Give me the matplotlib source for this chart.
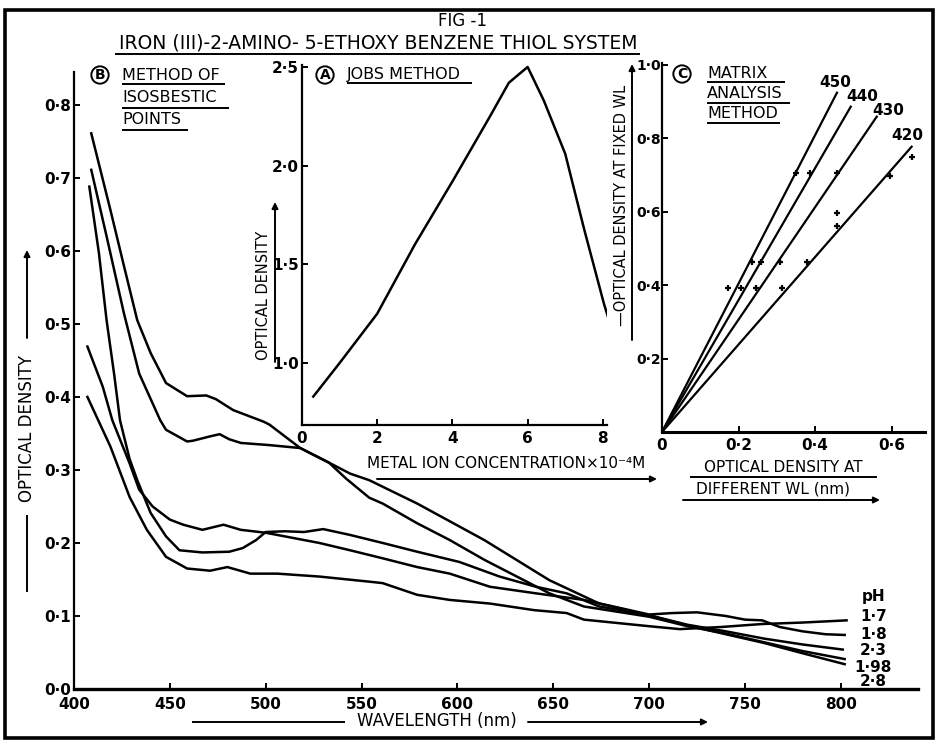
import matplotlib
matplotlib.use('Agg')
import matplotlib.pyplot as plt
from matplotlib.lines import Line2D
from matplotlib.patches import FancyArrowPatch, Rectangle

plt.rcParams['font.family'] = ['DejaVu Sans']

# ---------------- data: (B) method of isosbestic points ----------------
wl_198 = [409, 419, 426, 433, 440, 448, 459, 469, 474, 483, 499, 502, 518, 533, 542, 554, 561, 579, 596, 614,
          631, 648, 666, 700, 720, 740, 760, 780, 802]
od_198 = [0.761, 0.656, 0.580, 0.505, 0.460, 0.419, 0.401, 0.402, 0.397, 0.382, 0.366, 0.362, 0.330, 0.310,
          0.288, 0.262, 0.254, 0.227, 0.204, 0.177, 0.154, 0.131, 0.113, 0.099, 0.086, 0.076, 0.064, 0.052,
          0.041]

wl_23 = [409, 417, 426, 434, 445, 448, 459, 462, 471, 476, 481, 487, 502, 518, 533, 544, 554, 579,
         614, 648, 674, 700, 720, 740, 760, 780, 801]
od_23 = [0.711, 0.620, 0.515, 0.432, 0.368, 0.355, 0.339, 0.340, 0.346, 0.349, 0.342, 0.337, 0.334,
         0.330, 0.310, 0.295, 0.286, 0.254, 0.204, 0.149, 0.117, 0.101, 0.088, 0.079, 0.069, 0.061, 0.054]

wl_28 = [408, 413, 417, 421, 424, 429, 433, 440, 448, 455, 467, 481, 488, 495, 500, 510, 520, 530, 544, 561,
         579, 601, 622, 641, 657, 674, 700, 720, 740, 760, 780, 802]
od_28 = [0.688, 0.597, 0.505, 0.430, 0.368, 0.315, 0.286, 0.241, 0.209, 0.190, 0.187, 0.188, 0.193, 0.204,
         0.215, 0.216, 0.215, 0.219, 0.211, 0.200, 0.188, 0.174, 0.154, 0.140, 0.131, 0.113, 0.101, 0.087,
         0.075, 0.063, 0.049, 0.034]

wl_18 = [407, 415, 420, 429, 434, 441, 450, 457, 467, 478, 487, 500, 506, 528, 544, 561, 579, 596, 617,
         641, 666, 700, 712, 725, 740, 750, 759, 768, 780, 792, 802]
od_18 = [0.469, 0.414, 0.368, 0.309, 0.273, 0.250, 0.232, 0.225, 0.218, 0.225, 0.218, 0.214, 0.211, 0.200,
         0.190, 0.179, 0.167, 0.158, 0.140, 0.131, 0.122, 0.102, 0.104, 0.105, 0.100, 0.095, 0.094, 0.085,
         0.079, 0.075, 0.074]

wl_17 = [407, 419, 429, 438, 448, 459, 471, 480, 492, 506, 528, 554, 561, 579, 596, 617, 640, 657, 666,
         700, 716, 738, 759, 780, 803]
od_17 = [0.400, 0.332, 0.263, 0.218, 0.181, 0.165, 0.162, 0.167, 0.158, 0.158, 0.154, 0.147, 0.145, 0.129,
         0.122, 0.117, 0.108, 0.104, 0.095, 0.086, 0.082, 0.085, 0.089, 0.091, 0.094]

ph_labels = ['1·7', '1·8', '2·3', '1·98', '2·8']
ph_label_od = [0.099, 0.075, 0.053, 0.030, 0.010]
wl_ticks = [400, 450, 500, 550, 600, 650, 700, 750, 800]
od_ticks = [0.0, 0.1, 0.2, 0.3, 0.4, 0.5, 0.6, 0.7, 0.8]
od_tick_labels = ['0·0', '0·1', '0·2', '0·3', '0·4', '0·5', '0·6', '0·7', '0·8']

# ---------------- data: (A) Job's method ----------------
jobs_conc = [0.3, 1.0, 2.0, 3.0, 4.0, 5.0, 5.5, 6.0, 6.43, 7.0, 7.5, 8.03, 8.45]
jobs_od = [0.83, 1.00, 1.25, 1.60, 1.92, 2.25, 2.42, 2.50, 2.33, 2.06, 1.68, 1.30, 1.04]
jobs_xticks = [0, 2, 4, 6, 8]
jobs_yticks = [1.0, 1.5, 2.0, 2.5]
jobs_ytick_labels = ['1·0', '1·5', '2·0', '2·5']

# ---------------- data: (C) matrix analysis ----------------
matrix_wl = ['450', '440', '430', '420']
matrix_end_x = [0.457, 0.493, 0.561, 0.652]
matrix_end_y = [0.924, 0.886, 0.859, 0.777]
matrix_lab_x = [0.452, 0.522, 0.590, 0.640]
matrix_lab_y = [0.951, 0.913, 0.875, 0.808]
matrix_pts_x = [0.172, 0.207, 0.245, 0.313, 0.234, 0.258, 0.308, 0.378, 0.350, 0.386, 0.456, 0.595,
                0.456, 0.456, 0.654]
matrix_pts_y = [0.392, 0.392, 0.392, 0.392, 0.464, 0.464, 0.464, 0.464, 0.706, 0.706, 0.706, 0.696,
                0.597, 0.561, 0.749]
mx_ticks = [0, 0.2, 0.4, 0.6]
mx_tick_labels = ['0', '0·2', '0·4', '0·6']
my_ticks = [0.2, 0.4, 0.6, 0.8, 1.0]
my_tick_labels = ['0·2', '0·4', '0·6', '0·8', '1·0']

# ---------------- figure ----------------
W, H = 939, 744
fig = plt.figure(figsize=(W / 100, H / 100), dpi=100)
fig.patch.set_facecolor('white')


def fx(p):
    return p / W


def fy(p):
    return 1 - p / H


def ftext(x, y, s, **kw):
    kw.setdefault('va', 'center')
    kw.setdefault('ha', 'left')
    kw.setdefault('fontsize', 11)
    return fig.text(fx(x), fy(y), s, **kw)


def fline(x0, y0, x1, y1, lw=1.4):
    fig.add_artist(Line2D([fx(x0), fx(x1)], [fy(y0), fy(y1)], transform=fig.transFigure,
                          color='k', lw=lw, solid_capstyle='butt'))


def farrow(x0, y0, x1, y1, lw=1.4):
    fig.add_artist(FancyArrowPatch((fx(x0), fy(y0)), (fx(x1), fy(y1)), transform=fig.transFigure,
                                   arrowstyle='-|>', mutation_scale=9, lw=lw, color='k',
                                   shrinkA=0, shrinkB=0))


def circ(x, y, s, size=10):
    fig.text(fx(x), fy(y), s, ha='center', va='center', fontsize=size, fontweight='bold',
             bbox=dict(boxstyle='circle,pad=0.12', fc='none', ec='k', lw=1.4))


def style_axes(ax, lw_left=1.6, lw_bottom=1.6, size=11):
    for s in ['top', 'right']:
        ax.spines[s].set_visible(False)
    ax.spines['left'].set_linewidth(lw_left)
    ax.spines['bottom'].set_linewidth(lw_bottom)
    ax.patch.set_alpha(0)
    ax.tick_params(direction='in', length=4, width=1.4, labelsize=size, pad=2)
    for lab in ax.get_xticklabels() + ax.get_yticklabels():
        lab.set_fontweight('bold')


# main axes (B)
ax = fig.add_axes([fx(74), fy(689), (917.5 - 74) / W, (689 - 72) / H])
ax.set_xlim(400, 840)
ax.set_ylim(0, 0.845)
for wl, od in [(wl_17, od_17), (wl_18, od_18), (wl_23, od_23), (wl_198, od_198), (wl_28, od_28)]:
    ax.plot(wl, od, color='k', lw=1.8, solid_joinstyle='round')
ax.set_xticks(wl_ticks)
ax.set_xticklabels([str(v) for v in wl_ticks])
ax.set_yticks(od_ticks)
ax.set_yticklabels(od_tick_labels)
style_axes(ax, 1.6, 2.4)
ax.tick_params(axis='x', pad=6)
ax.text(817, 0.127, 'pH', ha='center', va='center', fontsize=11, fontweight='bold')
for lab, yv in zip(ph_labels, ph_label_od):
    ax.text(817, yv, lab, ha='center', va='center', fontsize=11, fontweight='bold')

# inset (A) Job's method
ax2 = fig.add_axes([fx(302), fy(425), 304.6 / W, (425 - 65) / H])
ax2.set_xlim(0, 8.1)
ax2.set_ylim(0.686, 2.51)
ax2.plot(jobs_conc, jobs_od, color='k', lw=1.8)
ax2.set_xticks(jobs_xticks)
ax2.set_xticklabels([str(v) for v in jobs_xticks])
ax2.set_yticks(jobs_yticks)
ax2.set_yticklabels(jobs_ytick_labels)
style_axes(ax2)
ax2.tick_params(axis='x', pad=4)

# inset (C) matrix analysis
ax3 = fig.add_axes([fx(662), fy(432), (925 - 662) / W, (432 - 63) / H])
ax3.set_xlim(0, 0.687)
ax3.set_ylim(0, 1.005)
for ex, ey, lab, lx, ly in zip(matrix_end_x, matrix_end_y, matrix_wl, matrix_lab_x, matrix_lab_y):
    ax3.plot([0, ex], [0, ey], color='k', lw=1.6)
    ax3.text(lx, ly, lab, ha='center', va='center', fontsize=11, fontweight='bold')
ax3.plot(matrix_pts_x, matrix_pts_y, linestyle='none', marker='+', markersize=5,
         markeredgewidth=1.6, color='k')
ax3.set_xticks(mx_ticks)
ax3.set_xticklabels(mx_tick_labels)
ax3.set_yticks(my_ticks)
ax3.set_yticklabels(my_tick_labels)
style_axes(ax3, 1.6, 2.2, size=10)
ax3.tick_params(axis='x', pad=4, labelsize=11)
ax3.tick_params(axis='y', pad=1)

# ---------------- annotations ----------------
# frame
fig.add_artist(Rectangle((fx(5), fy(738)), (933 - 5) / W, (738 - 10) / H, fill=False,
                         lw=2.6, ec='k', transform=fig.transFigure))

# titles
ftext(462, 21, 'FIG -1', ha='center', fontsize=12)
ftext(378, 43, 'IRON (III)-2-AMINO- 5-ETHOXY BENZENE THIOL SYSTEM', ha='center', fontsize=13.5)
fline(115, 54, 640, 54)

# (B) label
circ(100, 75, 'B')
ftext(122, 75, 'METHOD OF', fontsize=11.5)
fline(122, 84, 225, 84)
ftext(122, 98, 'ISOSBESTIC', fontsize=11.5)
fline(122, 108, 229, 108)
ftext(122, 120, 'POINTS', fontsize=11.5)
fline(122, 130, 188, 130)

# main y label
ftext(27, 428, 'OPTICAL DENSITY', ha='center', rotation=90, fontsize=12)
fline(27, 515, 27, 592)
farrow(27, 338, 27, 250)

# main x label
ftext(437, 721, 'WAVELENGTH (nm)', ha='center', fontsize=12)
fline(192, 722, 345, 722)
farrow(528, 722, 708, 722)

# (A) label
circ(325, 75, 'A')
ftext(347, 74, 'JOBS METHOD', fontsize=11.5)
fline(347, 83, 472, 83)
ftext(263, 295, 'OPTICAL DENSITY', ha='center', rotation=90, fontsize=10.5)
farrow(275, 362, 275, 202)
ftext(506, 464, 'METAL ION CONCENTRATION×10⁻⁴M', ha='center', fontsize=11)
farrow(377, 479, 657, 479)

# (C) label
circ(682, 74, 'C')
ftext(707, 73, 'MATRIX', fontsize=11.5)
fline(707, 82, 785, 82)
ftext(707, 93, 'ANALYSIS', fontsize=11.5)
fline(707, 103, 790, 103)
ftext(707, 113, 'METHOD', fontsize=11.5)
fline(707, 123, 780, 123)
ftext(621, 205, '—OPTICAL DENSITY AT FIXED WL', ha='center', rotation=90, fontsize=10.5)
farrow(632, 340, 632, 64)
ftext(783, 467, 'OPTICAL DENSITY AT', ha='center', fontsize=11)
fline(690, 477, 877, 477)
ftext(773, 489, 'DIFFERENT WL (nm)', ha='center', fontsize=11)
farrow(683, 500, 880, 500)

fig.savefig('out.png', dpi=100, facecolor='white')
